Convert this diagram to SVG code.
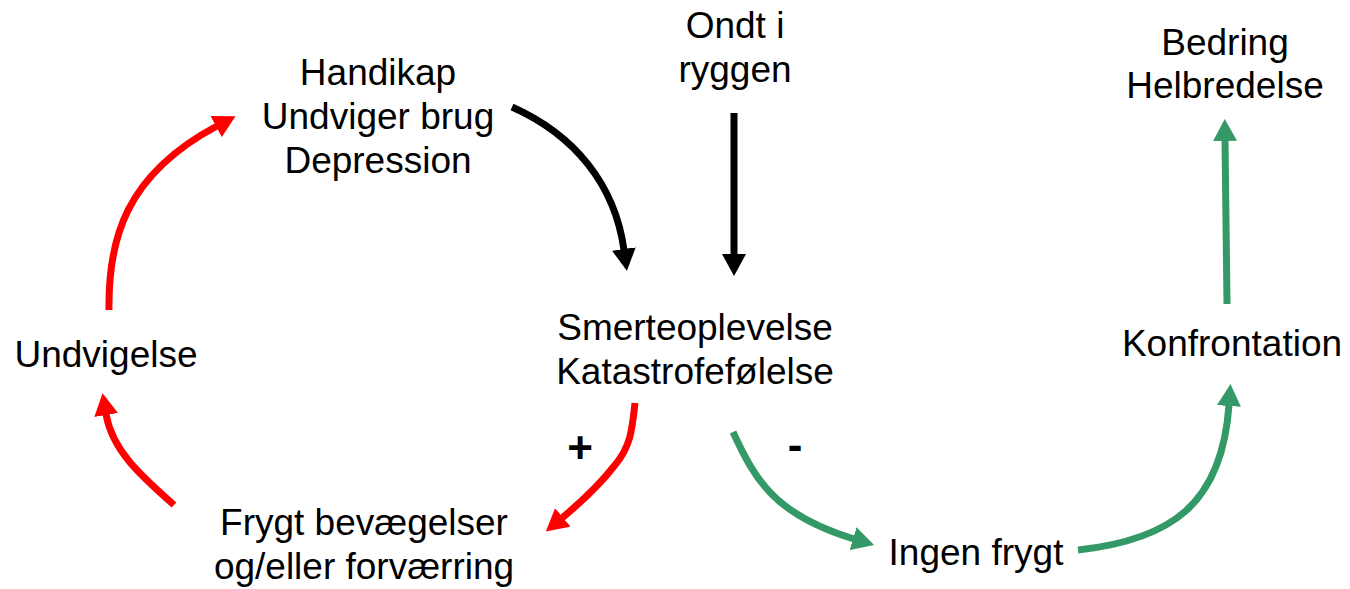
<svg xmlns="http://www.w3.org/2000/svg" width="1350" height="589" viewBox="0 0 1350 589">
<style>
text{font-family:"Liberation Sans",Arial,sans-serif;font-size:37px;fill:#000;text-anchor:middle}
text.s{font-weight:bold;font-size:44px}
.c{fill:none;stroke-width:7}
.k{stroke:#000}.r{stroke:#FF0000}.g{stroke:#339966}
</style>
<defs>
<marker id="hk" viewBox="0 0 22 24" refX="1" refY="12" markerWidth="22" markerHeight="24" markerUnits="userSpaceOnUse" orient="auto"><path d="M0,0 L22,12 L0,24 z" fill="#000"/></marker>
<marker id="hr" viewBox="0 0 22 24" refX="1" refY="12" markerWidth="22" markerHeight="24" markerUnits="userSpaceOnUse" orient="auto"><path d="M0,0 L22,12 L0,24 z" fill="#FF0000"/></marker>
<marker id="hg" viewBox="0 0 22 24" refX="1" refY="12" markerWidth="22" markerHeight="24" markerUnits="userSpaceOnUse" orient="auto"><path d="M0,0 L22,12 L0,24 z" fill="#339966"/></marker>
</defs>
<rect width="1350" height="589" fill="#fff"/>
<g id="connectors">
<path class="c k" d="M512,107 C575,135 615,185 624,250" marker-end="url(#hk)"/>
<path class="c k" d="M734,113 L734,255" marker-end="url(#hk)"/>
<path class="c r" d="M635,403 C632,432 630,447 615,465 C598,487 580,503 562,518" marker-end="url(#hr)"/>
<path class="c g" d="M733,432 C755,480 775,515 854,539" marker-end="url(#hg)"/>
<path class="c g" d="M1078,550 C1170,540 1222,505 1229,405" marker-end="url(#hg)"/>
<path class="c g" d="M1227,304 L1225,140" marker-end="url(#hg)"/>
<path class="c r" d="M109,310 C108,240 125,175 217,126" marker-end="url(#hr)"/>
<path class="c r" d="M174,505 C140,475 112,450 106,414" marker-end="url(#hr)"/>
</g>
<g id="handikap"><text x="378" y="85">Handikap</text><text x="378" y="129">Undviger brug</text><text x="378" y="173">Depression</text></g>
<g id="ondt"><text x="735" y="38">Ondt i</text><text x="735" y="82">ryggen</text></g>
<g id="bedring"><text x="1225" y="55">Bedring</text><text x="1225" y="98">Helbredelse</text></g>
<g id="smerte"><text x="695" y="340">Smerteoplevelse</text><text x="695" y="384">Katastrofefølelse</text></g>
<g id="undvigelse"><text x="106" y="367">Undvigelse</text></g>
<g id="konfrontation"><text x="1232" y="356">Konfrontation</text></g>
<g id="frygt"><text x="364" y="535">Frygt bevægelser</text><text x="364" y="579">og/eller forværring</text></g>
<g id="ingen"><text x="976" y="565">Ingen frygt</text></g>
<g id="signs"><text class="s" x="580" y="463">+</text><text class="s" x="795" y="460">-</text></g>
</svg>
